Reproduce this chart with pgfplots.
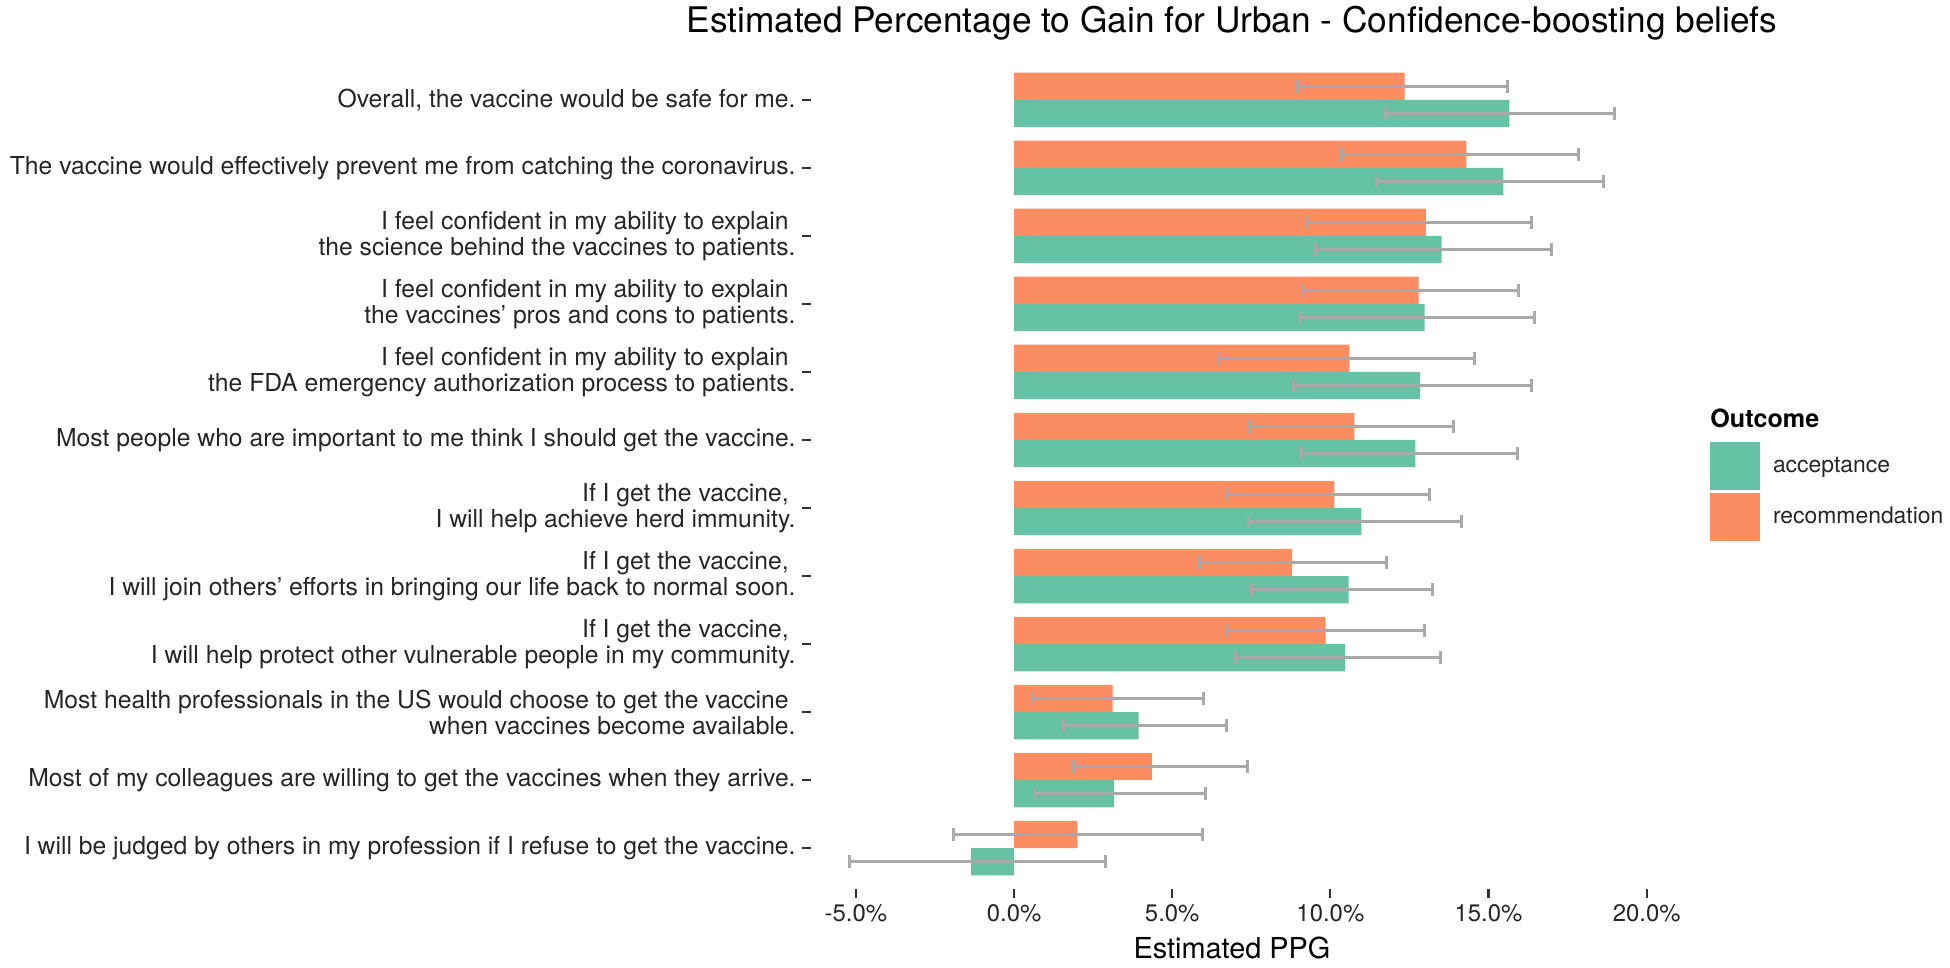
\documentclass[border=0pt]{standalone}
\usepackage{fontspec}
\setmainfont{TeX Gyre Heros}
\usepackage{pgfplots}
\usepackage{pgfplotstable}
\pgfplotsset{compat=1.18}
\definecolor{accgreen}{HTML}{66C2A5}
\definecolor{recorange}{HTML}{FC8D62}
\definecolor{errgray}{HTML}{A9A9A9}

% estimated PPG (%), with lower and upper interval ends; y=12 is the top row
\pgfplotstableread{
y   acc   acclo  acchi  rec    reclo  rechi
12  15.66 11.74  18.99  12.35  8.97   15.59
11  15.47 11.46  18.62  14.30  10.34  17.84
10  13.52 9.52   16.99  13.02  9.24   16.37
9   12.98 9.04   16.45  12.79  9.13   15.94
8   12.84 8.83   16.37  10.60  6.47   14.56
7   12.69 9.10   15.91  10.76  7.43   13.90
6   10.98 7.42   14.16  10.13  6.71   13.14
5   10.58 7.52   13.22  8.79   5.85   11.76
4   10.47 6.99   13.47  9.85   6.72   12.98
3   3.94  1.56   6.73   3.12   0.58   6.00
2   3.16  0.65   6.04   4.36   1.87   7.39
1   -1.36 -5.21  2.89   2.00   -1.92  5.97
}\ppgdata

\pgfplotsset{
  ebars/.style={
    error bars/.cd, x dir=both, x explicit, error mark=|,
    error bar style={draw=errgray, line width=1.5bp},
    error mark options={draw=errgray, line width=1.5bp, mark size=3.3bp}},
}

\begin{document}
\begin{tikzpicture}
\begin{axis}[
  scale only axis, width=421bp, height=415bp,
  xmin=-6.42, xmax=20.2, ymin=0.4, ymax=12.6,
  axis line style={draw=none},
  tick align=outside, tick pos=left,
  major tick length=4.5bp,
  tick style={color=black!80, line width=1.1bp},
  xtick={-5,0,5,10,15,20},
  xticklabels={-5.0\%,0.0\%,5.0\%,10.0\%,15.0\%,20.0\%},
  xticklabel style={font=\fontsize{12}{13}\selectfont, text=black!85},
  ytick={1,...,12},
  yticklabels={
    {I will be judged by others in my profession if I refuse to get the vaccine.},
    {Most of my colleagues are willing to get the vaccines when they arrive.},
    {Most health professionals in the US would choose to get the vaccine\kern0.28em\\when vaccines become available.},
    {If I get the vaccine,\kern0.28em\\I will help protect other vulnerable people in my community.},
    {If I get the vaccine,\kern0.28em\\I will join others’ efforts in bringing our life back to normal soon.},
    {If I get the vaccine,\kern0.28em\\I will help achieve herd immunity.},
    {Most people who are important to me think I should get the vaccine.},
    {I feel confident in my ability to explain\kern0.28em\\the FDA emergency authorization process to patients.},
    {I feel confident in my ability to explain\kern0.28em\\the vaccines’ pros and cons to patients.},
    {I feel confident in my ability to explain\kern0.28em\\the science behind the vaccines to patients.},
    {The vaccine would effectively prevent me from catching the coronavirus.},
    {Overall, the vaccine would be safe for me.}},
  yticklabel style={align=right, font=\fontsize{12.4}{13}\selectfont, text=black!85, inner sep=0pt, xshift=-3bp},
  xlabel={Estimated PPG},
  xlabel style={font=\fontsize{14.5}{17}\selectfont, at={(axis description cs:0.5,0)}, anchor=base, yshift=-34.5bp},
  title={Estimated Percentage to Gain for Urban - Confidence-boosting beliefs},
  title style={font=\fontsize{17.7}{20}\selectfont, at={(axis description cs:0.5,1)}, anchor=base, yshift=7.5bp},
  xbar, bar width=0.4,
  legend style={at={(1.0677,0.5386)}, anchor=north west, draw=none, fill=none,
    inner sep=0pt, outer sep=0pt, row sep=1.5bp,
    font=\fontsize{11.5}{13}\selectfont, nodes={inner sep=0pt, text=black!85}},
  legend cell align=left,
  legend style={/tikz/every odd column/.append style={column sep=6.5bp}},
]
\addplot[fill=accgreen, draw=none, bar shift=-0.2,
  legend image code/.code={\fill[accgreen] (0bp,-12bp) rectangle (25bp,12bp);},
  ebars]
  table[x=acc, y=y,
    x error plus expr=\thisrow{acchi}-\thisrow{acc},
    x error minus expr=\thisrow{acc}-\thisrow{acclo}] {\ppgdata};
\addlegendentry{acceptance}
\addplot[fill=recorange, draw=none, bar shift=0.2,
  legend image code/.code={\fill[recorange] (0bp,-12bp) rectangle (25bp,12bp);},
  ebars]
  table[x=rec, y=y,
    x error plus expr=\thisrow{rechi}-\thisrow{rec},
    x error minus expr=\thisrow{rec}-\thisrow{reclo}] {\ppgdata};
\addlegendentry{recommendation}
\end{axis}
\node[anchor=west, inner sep=0pt, font=\bfseries\fontsize{12.6}{15}\selectfont] at (449.5bp,235.5bp) {Outcome};
\pgfresetboundingbox
\path (-405.5bp,-39.5bp) rectangle (569.5bp,444.5bp);
\end{tikzpicture}
\end{document}
